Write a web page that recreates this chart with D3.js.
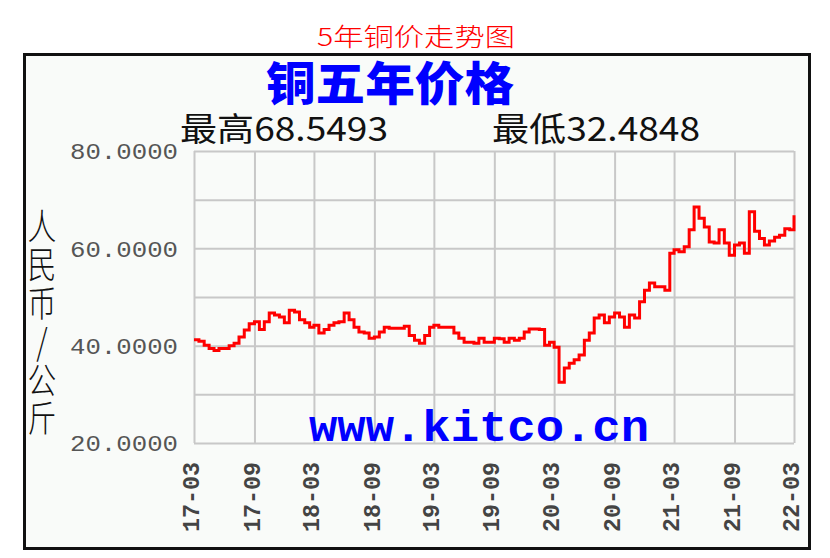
<!DOCTYPE html>
<html>
<head>
<meta charset="utf-8">
<script src="https://cdn.jsdelivr.net/npm/d3@7"></script>
<style>
  html, body { margin: 0; padding: 0; background: #fff; }
  svg { display: block; }
</style>
</head>
<body>
<div id="chart"></div>
<script>
// ---- Data (two readings per month: 1st and 16th) ----
const months = [
  "17-03","17-04","17-05","17-06","17-07","17-08","17-09","17-10","17-11","17-12",
  "18-01","18-02","18-03","18-04","18-05","18-06","18-07","18-08","18-09","18-10","18-11","18-12",
  "19-01","19-02","19-03","19-04","19-05","19-06","19-07","19-08","19-09","19-10","19-11","19-12",
  "20-01","20-02","20-03","20-04","20-05","20-06","20-07","20-08","20-09","20-10","20-11","20-12",
  "21-01","21-02","21-03","21-04","21-05","21-06","21-07","21-08","21-09","21-10","21-11","21-12",
  "22-01","22-02","22-03"
];
const firstHalf = [
  41.2, 40.1, 39.0, 39.4, 40.5, 43.2, 44.9, 44.9, 46.3, 44.7,
  46.9, 44.7, 44.2, 43.3, 44.7, 46.7, 43.8, 42.6, 41.8, 43.8, 43.6, 44.0,
  41.1, 42.1, 44.2, 43.8, 42.6, 40.7, 40.5, 40.7, 41.5, 40.7, 41.1, 42.8,
  43.4, 40.1, 39.7, 35.4, 37.1, 41.1, 45.7, 44.7, 46.7, 43.8, 45.7, 51.4,
  52.1, 51.4, 59.7, 60.3, 68.5, 64.4, 61.1, 61.1, 60.7, 59.0, 63.5, 60.7,
  62.3, 64.0, 66.8
];
const secondHalf = [
  40.9, 39.4, 39.4, 40.0, 41.8, 44.5, 43.3, 46.7, 45.9, 47.3,
  45.3, 43.8, 42.6, 44.2, 44.9, 45.3, 42.8, 41.5, 42.8, 43.6, 43.6, 42.1,
  40.5, 43.8, 43.8, 43.8, 41.5, 40.7, 41.5, 40.7, 41.4, 41.5, 41.5, 43.4,
  43.3, 40.7, 32.5, 36.4, 38.1, 42.6, 46.3, 45.9, 45.9, 46.3, 49.0, 52.9,
  52.1, 59.0, 59.3, 63.8, 66.2, 61.3, 63.8, 58.6, 61.1, 67.5, 62.0, 61.5,
  62.7, 63.8
];
const yTicks = [20, 30, 40, 50, 60, 70, 80];
const yTickLabels = ["20.0000", "", "40.0000", "", "60.0000", "", "80.0000"];
const xTickLabels = ["17-03","17-09","18-03","18-09","19-03","19-09","20-03","20-09","21-03","21-09","22-03"];
const pageTitle = "5年铜价走势图";
const chartTitle = "铜五年价格";
const highText = "最高68.5493";
const lowText = "最低32.4848";
const yAxisTitle = "人民币/公斤";
const watermark = "www.kitco.cn";

// ---- Build series ----
const parseMonth = d3.utcParse("%y-%m");
const series = [];
months.forEach((m, i) => {
  const d0 = parseMonth(m);
  series.push({ date: d0, value: firstHalf[i] });
  if (secondHalf[i] !== undefined) {
    series.push({ date: d3.utcDay.offset(d0, 15), value: secondHalf[i] });
  }
});
const xTickDates = xTickLabels.map(parseMonth);

// ---- Layout ----
const W = 830, H = 558;
const plot = { left: 194, right: 794, top: 151, bottom: 443 };

const svg = d3.select("#chart").append("svg")
  .attr("width", W).attr("height", H);

const CJK = "'Noto Sans CJK SC', 'Noto Sans', sans-serif";
const MONO = "'Liberation Mono', 'DejaVu Sans Mono', monospace";

// page title
svg.append("text")
  .attr("x", 317).attr("y", 46)
  .attr("textLength", 198).attr("lengthAdjust", "spacingAndGlyphs")
  .style("font-family", CJK).style("font-size", "25px").style("font-weight", 300)
  .style("fill", "#ff0000")
  .text(pageTitle);

// outer frame
svg.append("rect")
  .attr("x", 24.5).attr("y", 54.5).attr("width", 785).attr("height", 494)
  .attr("fill", "#f9fbf9").attr("stroke", "#111").attr("stroke-width", 3);

// chart title
svg.append("text")
  .attr("x", 266).attr("y", 100)
  .attr("textLength", 248).attr("lengthAdjust", "spacingAndGlyphs")
  .style("font-family", CJK).style("font-size", "46px").style("font-weight", 900)
  .style("fill", "#0000ff")
  .text(chartTitle);

// high / low
[[highText, 180], [lowText, 492]].forEach(([t, x0]) => {
  svg.append("text")
    .attr("x", x0).attr("y", 141)
    .attr("textLength", 208).attr("lengthAdjust", "spacingAndGlyphs")
    .style("font-family", CJK).style("font-size", "33px").style("font-weight", 400)
    .style("fill", "#111")
    .text(t);
});

// ---- Scales ----
const x = d3.scaleUtc()
  .domain([parseMonth("17-03"), parseMonth("22-03")])
  .range([plot.left, plot.right]);
const y = d3.scaleLinear()
  .domain([20, 80])
  .range([plot.bottom, plot.top]);

// ---- Grid ----
const gridColor = "#c8c8c8";
svg.append("g")
  .attr("transform", `translate(0,${plot.bottom})`)
  .call(d3.axisBottom(x).tickValues(xTickDates).tickSize(-(plot.bottom - plot.top)).tickFormat(""))
  .call(g => g.select(".domain").remove())
  .call(g => g.selectAll("line").attr("stroke", gridColor).attr("stroke-width", 2));

svg.append("g")
  .attr("transform", `translate(${plot.left},0)`)
  .call(d3.axisLeft(y).tickValues(yTicks).tickSize(-(plot.right - plot.left)).tickFormat(""))
  .call(g => g.select(".domain").remove())
  .call(g => g.selectAll("line").attr("stroke", gridColor).attr("stroke-width", 2));

// ---- Y tick labels ----
svg.append("g")
  .attr("transform", `translate(${plot.left - 16},0)`)
  .call(d3.axisLeft(y).tickValues(yTicks).tickSize(0).tickPadding(0)
    .tickFormat((d, i) => yTickLabels[i]))
  .call(g => g.select(".domain").remove())
  .call(g => g.selectAll("text")
    .attr("dy", "0.36em")
    .attr("textLength", d => yTickLabels[yTicks.indexOf(d)] ? 108 : null)
    .attr("lengthAdjust", "spacingAndGlyphs")
    .style("font-family", MONO).style("font-size", "22px")
    .style("fill", "#555"));

// ---- X tick labels (rotated) ----
svg.append("g")
  .attr("transform", `translate(0,${plot.bottom})`)
  .call(d3.axisBottom(x).tickValues(xTickDates).tickSize(0)
    .tickFormat((d, i) => xTickLabels[i]))
  .call(g => g.select(".domain").remove())
  .call(g => g.selectAll("text")
    .attr("transform", "rotate(-90)")
    .attr("text-anchor", "end")
    .attr("x", -19).attr("y", -4).attr("dy", "0.36em")
    .attr("textLength", 70)
    .attr("lengthAdjust", "spacingAndGlyphs")
    .style("font-family", MONO).style("font-size", "24px").style("font-weight", 700)
    .style("fill", "#444"));

// ---- Y axis title, one vertical text ----
svg.append("text")
  .attr("transform", "translate(42,208) scale(0.8,1)")
  .attr("x", 0).attr("y", 0)
  .style("writing-mode", "vertical-rl")
  .style("text-orientation", "upright")
  .style("letter-spacing", "2.5px")
  .style("font-family", CJK).style("font-size", "36px").style("font-weight", 300)
  .style("fill", "#111")
  .text(yAxisTitle);

// ---- Watermark ----
svg.append("text")
  .attr("x", 309).attr("y", 441)
  .attr("textLength", 340).attr("lengthAdjust", "spacingAndGlyphs")
  .style("font-family", MONO).style("font-size", "44px").style("font-weight", 700)
  .style("fill", "#0000ff")
  .text(watermark);

// ---- Price line ----
svg.append("path")
  .datum(series)
  .attr("fill", "none")
  .attr("stroke", "#ff0000")
  .attr("stroke-width", 3)
  .attr("stroke-linejoin", "miter")
  .attr("d", d3.line().curve(d3.curveStepAfter).x(d => x(d.date)).y(d => y(d.value)));
</script>
</body>
</html>
